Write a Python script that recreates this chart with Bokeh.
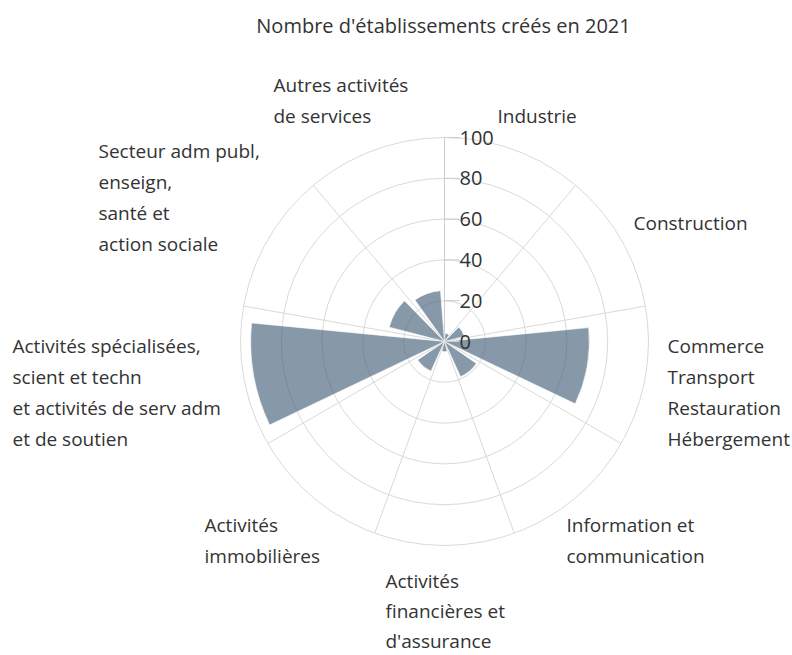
import numpy as np
from bokeh.plotting import figure
from bokeh.models import ColumnDataSource, Range1d
from bokeh.core.properties import value
from bokeh.embed import file_html
from bokeh.resources import INLINE

# ---------------- data ----------------
title_text = "Nombre d'établissements créés en 2021"
categories = [
    "Industrie",
    "Construction",
    "Commerce\nTransport\nRestauration\nHébergement",
    "Information et\ncommunication",
    "Activités\nfinancières et\nd'assurance",
    "Activités\nimmobilières",
    "Activités spécialisées,\nscient et techn\net activités de serv adm\net de soutien",
    "Secteur adm publ,\nenseign,\nsanté et\naction sociale",
    "Autres activités\nde services",
]
values = [4, 10, 71, 19, 5, 16, 95, 28, 25]
radial_ticks = [0, 20, 40, 60, 80, 100]
r_max = 100

# ---------------- layout ----------------
W, H = 792, 655
CX, CY = 444, 341          # centre of the pane, figure pixels
K = 2.04                   # pixels per value unit
FONT = value("Open Sans")
TXT = "#333333"
GRID = "#d9d9d9"
LINE_H = 31                # px between label lines
# first-line (left, middle) offsets of each category label, in px from centre
label_off = [(53, -226), (189, -119), (223, 4), (122, 183), (-59, 239),
             (-240, 183), (-432, 4), (-346, -191), (-171, -257)]
label_lh = [31, 31, 31, 31, 30, 31, 31, 31, 31]

p = figure(width=W, height=H, output_backend="svg", toolbar_location=None,
           x_range=Range1d(-CX / K, (W - CX) / K),
           y_range=Range1d(-(H - CY) / K, CY / K),
           min_border=0)
p.xaxis.visible = False
p.yaxis.visible = False
p.xgrid.visible = False
p.ygrid.visible = False
p.outline_line_color = None
p.background_fill_color = "white"

n = len(categories)
step = 360.0 / n
centers = np.array([step * (i + 0.5) for i in range(n)])  # clockwise from north

# grid circles
rings = [t for t in radial_ticks if t > 0]
p.circle(x=[0] * len(rings), y=[0] * len(rings), radius=rings,
         fill_color=None, line_color=GRID, line_width=1)

# radial grid lines
edges = np.radians([step * i for i in range(n)])
p.segment(x0=[0] * n, y0=[0] * n, x1=r_max * np.sin(edges), y1=r_max * np.cos(edges),
          line_color=GRID, line_width=1)
p.segment(x0=[0], y0=[0], x1=[0], y1=[r_max], line_color="#cccccc", line_width=1)

# bars
half = 15.5
src = ColumnDataSource(dict(
    r=values,
    start=np.radians(90 - (centers + half)),
    end=np.radians(90 - (centers - half)),
))
p.wedge(x=0, y=0, radius="r", start_angle="start", end_angle="end",
        direction="anticlock", source=src,
        fill_color="#466279", fill_alpha=0.65, line_color="white", line_width=1,
        line_alpha=0.6)

# radial ticks and labels
p.segment(x0=[0] * len(radial_ticks), y0=radial_ticks,
          x1=[15 / K] * len(radial_ticks), y1=radial_ticks,
          line_color="#cccccc", line_width=1)
p.text(x=[15 / K] * len(radial_ticks), y=radial_ticks,
       text=[str(t) for t in radial_ticks],
       text_font=FONT, text_font_size="20px", text_color=TXT,
       text_align="left", text_baseline="middle")

# category labels (each line separately, left-aligned block)
lx, ly, lt = [], [], []
for cat, (dx, dy), lh in zip(categories, label_off, label_lh):
    for j, line in enumerate(cat.split("\n")):
        lx.append(dx / K)
        ly.append(-(dy + j * lh) / K)
        lt.append(line)
p.text(x=lx, y=ly, text=lt, text_font=FONT, text_font_size="19px",
       text_color=TXT, text_align="left", text_baseline="middle")

# title
p.text(x=[-1 / K], y=[(CY - 25) / K], text=[title_text], text_font=FONT,
       text_font_size="20px", text_color=TXT, text_align="center",
       text_baseline="middle")

open("out.html", "w").write(file_html(p, INLINE))
